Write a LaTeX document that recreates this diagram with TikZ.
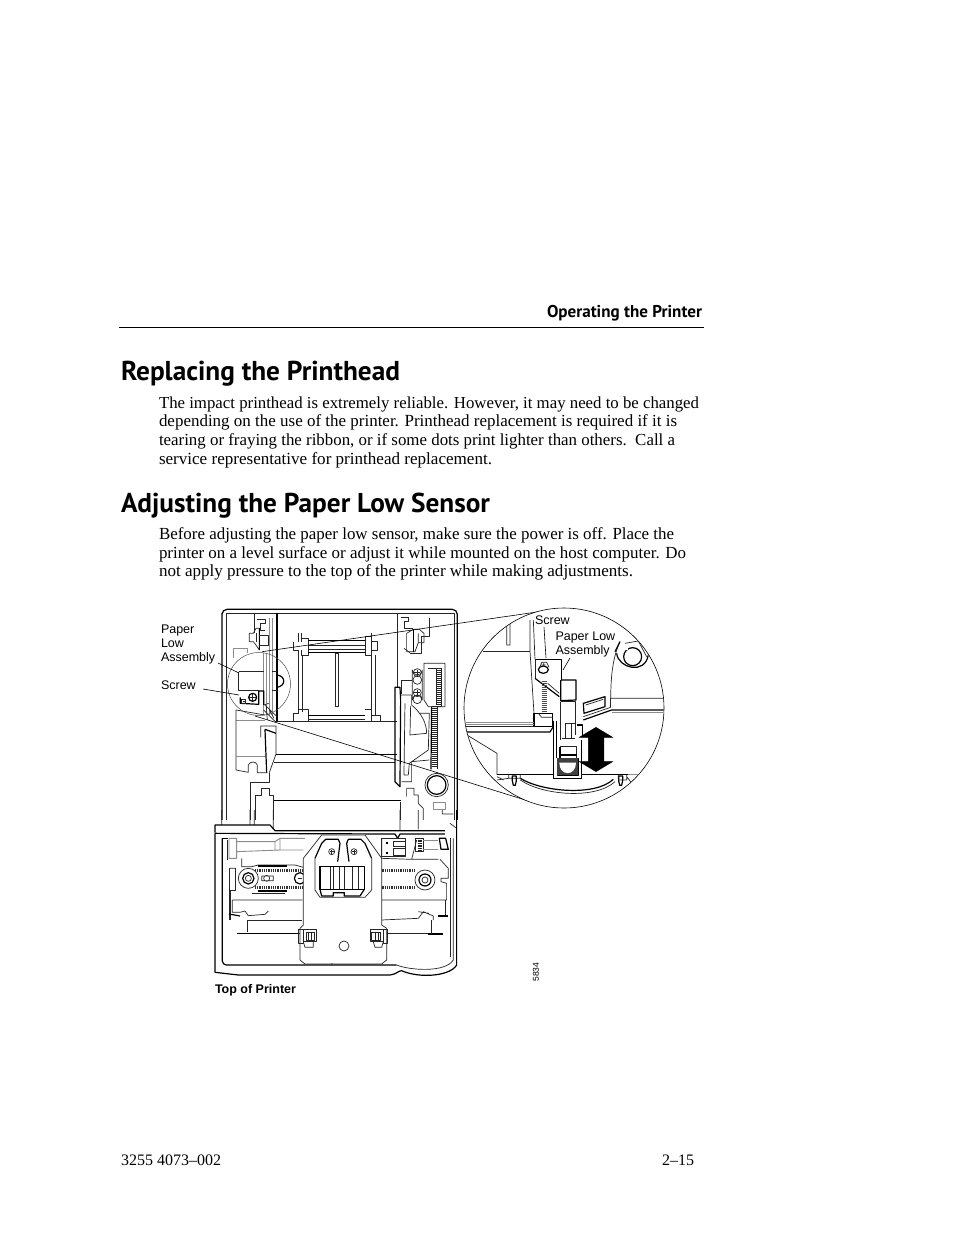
\documentclass[tikz,border=0pt]{standalone}
\usepackage{fontspec}
\usepackage{graphicx}
\setmainfont{Liberation Serif}
\newfontfamily\headf{PT Sans}
\newfontfamily\labf{Liberation Sans}
\newcommand{\fitline}[2]{\resizebox{#1pt}{!}{#2}}
\tikzset{
 txt/.style={anchor=base west,inner sep=0,outer sep=0},
 body/.style={txt,font=\fontsize{16}{19}\selectfont},
 head/.style={txt,font=\headf\bfseries\fontsize{27}{30}\selectfont},
 lab/.style={txt,font=\labf\fontsize{12.5}{14}\selectfont},
 zA/.style={shift={(150,600)},x=0.3333pt,y=-0.3333pt},
 zB/.style={shift={(455,600)},x=0.3333pt,y=-0.3333pt},
 zC/.style={shift={(205,810)},x=0.3333pt,y=-0.3333pt},
 ln/.style={line width=0.7pt,black!85,line join=round},
 hv/.style={line width=1.2pt,black,line join=round},
 gy/.style={line width=0.9pt,black!45,line join=round},
 lead/.style={line width=0.6pt,black},
 hatch/.style={line width=0.7pt,black!85},
 teeth/.style={line width=2.4pt,black!80,dash pattern=on 0.9pt off 0.9pt},
}
\begin{document}
\begin{tikzpicture}[x=1pt,y=-1pt]
\useasboundingbox (0,0) rectangle (954,1235);
\fill[white] (0,0) rectangle (954,1235);
% page text
\node[txt,font=\headf\bfseries\fontsize{15}{17}\selectfont] (runhead) at (547,317) {\fitline{155}{Operating the Printer}};
\coordinate (ruleL) at (119,327.5); \coordinate (ruleR) at (704,327.5);
\draw[line width=0.9pt] (ruleL) -- (ruleR);
\node[head] (h1) at (121,380) {\fitline{279}{Replacing the Printhead}};
\node[body] (p1a) at (159,408) {\fitline{540}{The impact printhead is extremely reliable. However, it may need to be changed}};
\node[body] (p1b) at (159,426) {\fitline{518}{depending on the use of the printer. Printhead replacement is required if it is}};
\node[body] (p1c) at (159,445) {\fitline{516}{tearing or fraying the ribbon, or if some dots print lighter than others.\ \ Call a}};
\node[body] (p1d) at (159,464) {\fitline{333}{service representative for printhead replacement.}};
\node[head] (h2) at (121,512) {\fitline{369}{Adjusting the Paper Low Sensor}};
\node[body] (p2a) at (159,539) {\fitline{515}{Before adjusting the paper low sensor, make sure the power is off. Place the}};
\node[body] (p2b) at (159,558) {\fitline{527}{printer on a level surface or adjust it while mounted on the host computer. Do}};
\node[body] (p2c) at (159,576) {\fitline{474}{not apply pressure to the top of the printer while making adjustments.}};
\node[body] (foot1) at (121,1165) {\fitline{100}{3255 4073--002}};
\node[body] (foot2) at (662,1165) {\fitline{32}{2--15}};
% ---- upper printer body
\begin{scope}[zA]
\draw[hv] (216,660) -- (216,40) [rounded corners=5pt] -- (216,28) -- (922,28) -- (922,660);
\draw[ln] (228,660) -- (228,40) -- (912,40) -- (912,660);
\draw[ln] (314,40) -- (314,100);
\draw[hv] (381,40) -- (381,363);
\draw[gy] (341,160) -- (341,345) (348,160) -- (348,345);
\draw[gy] (358,55) -- (358,345) (368,55) -- (368,345);
\draw[ln] (742,40) -- (742,262) (838,55) -- (838,110) -- (815,110) -- (815,160) -- (780,160);
\draw[gy] (251,175) -- (251,145) -- (291,145) -- (291,160);
% left bracket
\draw[ln] (322,58) -- (345,58) -- (345,70) -- (330,70) -- (330,90) -- (345,90);
\draw[ln] (298,100) -- (310,100) -- (318,85) -- (328,85) -- (328,150) -- (318,135) -- (310,125) -- (298,125) -- cycle;
\draw[hv] (328,85) -- (328,150);
\draw[ln] (328,105) -- (355,105) -- (355,135) -- (328,135) (318,100) -- (318,125);
% right bracket
\draw[ln] (752,52) -- (775,52) -- (775,65) -- (762,65) -- (762,85) -- (790,85);
\draw[ln] (770,100) -- (790,88) -- (808,88) -- (822,100) -- (822,128) -- (805,128) -- (795,155) -- (770,155) -- (770,135) -- cycle;
\draw[hv] (790,88) -- (790,155);
\draw[ln] (762,145) -- (780,158) (805,100) -- (805,128);
% spool
\draw[ln] (445,100) -- (445,125) (455,100) -- (455,125) (430,125) -- (430,150) -- (445,150) -- (445,335) (457,165) -- (457,335);
\draw[ln] (455,115) -- (475,115) -- (475,165) -- (455,165) -- (455,150);
\draw[ln] (475,135) -- (645,135) (475,147) -- (645,147);
\draw[hv] (475,122) -- (645,122) (475,158) -- (645,158);
\draw[ln] (645,110) -- (665,110) -- (665,165) -- (645,165) -- cycle;
\draw[ln] (665,100) -- (665,345) (675,165) -- (675,345) (665,125) -- (682,125) -- (682,150) -- (665,150);
\draw[ln] (555,160) rectangle (565,320);
\draw[ln] (430,363) -- (430,340) -- (445,340) -- (445,328) -- (475,328) -- (475,363);
\draw[hv] (475,347) -- (645,347);
\draw[ln] (475,358) -- (645,358);
\draw[ln] (645,328) -- (665,328) -- (665,363) (665,345) -- (690,345) -- (690,363);
\draw[ln] (375,363) -- (742,363);
\draw[hv] (378,463) -- (742,463);
\draw[ln] (372,488) -- (735,488);
\draw[hv] (370,602) -- (752,602);
% magnifier contents
\draw[ln] (266,215) -- (341,215) (266,215) -- (266,270) -- (326,270);
\draw[ln] (366,215) -- (381,215) (366,270) -- (381,270);
\draw[hv] (381,225) .. controls (408,228) and (408,258) .. (381,262);
\draw[hv] (271,292) -- (271,310) -- (326,313) -- (326,273) -- (341,273) -- (341,315);
\draw[ln] (273,298) rectangle (286,310) (278,303) -- (286,303);
\draw[hv] (308,292) circle (12);
\draw[ln] (308,282) -- (308,302) (298,292) -- (318,292);
\draw[ln] (345,315) -- (381,350) (341,330) -- (376,365) (349,320) -- (352,360) (358,330) -- (372,355) (258,330) -- (345,345);
\draw[ln] (341,315) -- (356,310);
\draw[gy] (258,360) -- (345,360);
% left lower frame
\draw[ln] (258,330) -- (258,510) -- (295,517) -- (295,495) .. controls (300,483) and (318,483) .. (322,495) -- (322,518) -- (352,518);
\draw[gy] (258,468) -- (345,468);
\draw[ln] (332,412) -- (332,378) -- (378,378) -- (378,462) -- (358,518);
\draw[hv] (345,388) -- (350,518) (345,388) -- (378,400);
\draw[ln] (302,660) -- (302,548) -- (358,548) -- (358,518);
\draw[ln] (315,660) -- (315,585) -- (335,585) -- (335,566) -- (357,566) -- (357,585) -- (370,585) -- (370,660);
% right column
\draw[hv] (735,262) -- (735,545) -- (750,560) -- (752,300) -- (750,262) -- cycle;
\draw[ln] (765,310) -- (762,525) -- (775,525) -- (778,490) -- (835,450) -- (838,340) -- (810,340);
\draw[ln] (752,285) -- (785,285) -- (785,315) .. controls (815,340) and (830,370) .. (830,400) -- (780,405) -- (782,318);
\draw[ln] (755,282) -- (755,240) -- (785,240);
\draw[ln] (787,210) arc (180:0:15) -- (817,300) arc (0:-180:15) -- cycle;
\foreach \c in {218,278}{\draw[ln] (802,\c) circle (12); \draw[ln] (802,\c-9) -- (802,\c+9) (793,\c) -- (811,\c);}
\foreach \c in {240,298}{\draw[ln] (802,\c) circle (13);}
\draw[ln] (822,190) -- (885,190) -- (885,320) -- (835,320) -- (822,300) -- cycle;
\draw[ln] (835,205) -- (860,205) -- (860,315);
\foreach \c in {205,211,...,320}{\draw[hatch] (860,\c) -- (875,\c);}
\draw[ln] (875,205) -- (875,320);
\foreach \c in {320,326,...,505}{\draw[hatch] (845,\c) -- (861,\c);}
\draw[hv] (845,320) -- (843,508);
\draw[ln] (861,320) -- (861,508);
\draw[ln] (755,545) -- (785,545) -- (785,485) -- (838,480);
\draw[ln] (770,590) -- (770,565) -- (792,565) -- (792,585) -- (805,585) -- (805,610) -- (820,625) -- (820,660);
\draw[ln] (750,660) -- (750,605);
\draw[ln] (860,555) circle (35);
\draw[hv] (860,555) circle (28);
\draw[gy] (850,608) rectangle (885,628);
\end{scope}
% ---- lower printer body
\begin{scope}[zC]
\draw[ln] (50,0) -- (50,45) (135,0) -- (135,45) (148,0) -- (148,45) (205,0) -- (205,62) (585,0) -- (585,60) (640,0) -- (640,58) (712,0) -- (712,12) -- (745,12) (735,40) -- (755,55);
\draw[hv,fill=white] (30,68) -- (30,45) -- (195,45) -- (210,62) -- (720,62);
\draw[hv] (30,70) -- (570,72) -- (578,85) -- (585,72) -- (720,72);
\draw[hv] (30,70) -- (30,487) -- (100,495) -- (555,495) .. controls (575,493) and (580,482) .. (590,482) .. controls (640,505) and (735,500) .. (755,465) -- (755,0);
\draw[hv] (52,85) -- (52,445) [rounded corners=4pt] -- (52,465) -- (575,465);
\draw[ln] (575,465) .. controls (610,480) and (720,490) .. (745,450) -- (745,85);
\draw[ln] (68,90) -- (68,150) (72,175) -- (72,330);
\draw[ln] (735,85) -- (735,440);
\draw[hv] (52,85) -- (68,85);
% roller
\draw[gy] (72,85) -- (95,85) -- (95,145) -- (72,145) -- cycle (95,95) -- (210,95) -- (225,85) -- (225,120) -- (295,120) (225,85) -- (300,85) (95,125) -- (225,120) (210,95) -- (210,120);
\draw[ln] (530,85) -- (530,145) -- (620,148) -- (635,90) (620,148) -- (700,148);
\draw[ln] (530,85) rectangle (600,140);
\fill (542,97) rectangle (548,103); \fill (542,125) rectangle (548,131);
\draw[ln] (565,95) rectangle (600,110) (565,115) rectangle (600,135);
\draw[ln] (632,85) rectangle (654,125);
\foreach \c in {85,90,...,125}{\draw[hatch] (638,\c) -- (652,\c);}
\draw[gy] (654,90) -- (700,90) (654,118) -- (700,118);
\draw[hv] (703,85) -- (722,85) -- (730,118) -- (708,118) -- cycle;
% middle housing left
\draw[ln] (75,175) -- (92,175) (110,145) -- (110,170) -- (140,170) -- (160,165) -- (270,165) -- (295,172);
\draw[ln] (92,175) -- (92,240) -- (75,240) -- (75,330);
\draw[ln] (140,250) -- (240,250);
\draw[ln] (82,270) -- (292,270) (82,270) -- (82,307) -- (105,307) -- (120,303) -- (130,317) -- (180,313) -- (190,303);
\draw[hv] (72,312) -- (105,318);
\draw[ln] (130,330) -- (292,330) (127,330) -- (127,367);
\draw[hv] (95,370) -- (285,370);
\draw[teeth] (150,181) -- (295,181) (150,232) -- (295,232);
\draw[hv] (160,168) -- (245,168) (160,243) -- (245,243);
\draw[ln,fill=white] (130,205) circle (30);
\draw[hv] (130,205) circle (17);
\draw[ln] (130,205) circle (9);
\draw[ln] (185,205) circle (9) (170,198) -- (205,198) -- (205,212) -- (170,212) -- cycle;
\draw[hv] (285,205) circle (17);
\draw[ln] (278,205) -- (292,205);
% middle housing right
\draw[ln] (705,148) -- (730,175) -- (730,205) -- (708,205) -- (708,215) -- (725,220) -- (725,270) -- (530,270);
\draw[teeth] (530,181) -- (630,181) (530,232) -- (630,232);
\draw[ln] (660,210) circle (30);
\draw[hv] (660,210) circle (18);
\draw[ln] (660,210) circle (9);
\draw[ln] (720,270) -- (720,318);
\draw[ln] (530,330) -- (640,325) -- (655,305) -- (685,318) -- (685,330) (640,305) -- (672,310);
\draw[hv] (700,318) -- (730,318);
\draw[ln] (530,370) -- (680,370);
\draw[hv] (670,372) -- (715,372);
\draw[ln] (680,330) -- (680,372);
% carrier
\draw[ln,fill=white] (295,145) -- (350,75) -- (480,75) -- (530,145) -- (530,345) -- (545,355) -- (545,450) -- (530,462) -- (300,462) -- (285,450) -- (285,355) -- (295,345) -- cycle;
\draw[hv] (330,145) -- (350,100) -- (362,88) -- (400,88) -- (405,100) -- (398,155);
\draw[hv] (500,145) -- (480,100) -- (468,88) -- (430,88) -- (425,100) -- (432,155);
\draw[ln] (330,145) -- (330,240) -- (345,262) -- (480,262) -- (500,240) -- (500,145);
\draw[ln] (380,125) circle (9) (447,125) circle (9);
\draw[ln] (374,125) -- (386,125) (380,119) -- (380,131) (441,125) -- (453,125) (447,119) -- (447,131);
\draw[hv] (345,170) rectangle (478,238);
\draw[ln] (375,170) -- (375,238) (402,170) -- (402,238) (442,170) -- (442,238);
\draw[ln] (418,170) -- (418,238) (385,170) -- (385,238) (460,170) -- (460,238);
\draw[hv] (345,238) -- (350,258) -- (385,258) -- (385,248) -- (418,248) -- (418,258) -- (465,258) -- (478,238);
% clips
\draw[ln] (280,358) rectangle (295,400);
\draw[ln] (295,358) rectangle (335,395);
\draw[ln] (303,368) rectangle (328,392) (310,368) -- (310,392) (320,368) -- (320,392);
\draw[ln] (295,395) -- (300,412) -- (325,412) -- (325,395);
\draw[ln] (535,358) rectangle (548,400);
\draw[ln] (495,358) rectangle (535,395);
\draw[ln] (500,368) rectangle (525,392) (510,368) -- (510,392) (520,368) -- (520,392);
\draw[ln] (505,395) -- (510,412) -- (530,412) -- (535,395);
\draw[ln] (417,408) circle (15);
\draw[ln] (380,460) -- (382,465);
\end{scope}
% ---- leaders
\node[circle,draw=black!70,line width=0.5pt,minimum size=63pt,inner sep=0] (smallc) at (259,684) {};
\node[lab] (lb1) at (161,633) {Paper};
\node[lab] (lb2) at (161,647) {Low};
\node[lab] (lb3) at (161,661) {Assembly};
\node[lab] (lb4) at (161,689) {Screw};
\coordinate (a1) at (218,663); \coordinate (a2) at (239,673);
\coordinate (s1) at (203,689); \coordinate (s2) at (239,695);
\draw[lead] (a1) -- (a2);
\draw[lead] (s1) -- (s2);
\coordinate (t1) at (262,651.7); \coordinate (t2) at (551,610);
\coordinate (b1) at (255,716); \coordinate (b2) at (535,803);
\draw[lead] (t1) -- (t2);
\draw[lead] (b1) -- (b2);
% ---- magnified view
\node[circle,draw=black,line width=0.6pt,fill=white,minimum size=200pt,inner sep=0] (bigc) at (564,708) {};
\begin{scope}
\clip (564,708) circle (99.7);
\begin{scope}[zB]
\draw[line width=0.9pt,black!85] (85,153) -- (225,153);
\draw[ln] (155,60) -- (155,135) -- (165,135) -- (165,60) (225,60) -- (225,153) -- (237,340);
\draw[ln] (235,60) -- (240,178);
\draw[hv] (240,178) -- (320,178) -- (320,240);
\draw[ln] (240,178) -- (240,235);
\draw[hv] (240,235) -- (313,290);
\draw[ln] (278,250) -- (313,280);
\foreach \c in {244,250,...,335}{\draw[line width=1pt,black!70] (260,\c) -- (276,\c);}
\draw[hv,fill=white] (237,340) rectangle (292,380);
\draw[ln] (250,340) -- (260,352) -- (292,352);
\draw[hv,fill=white] (265,209) ellipse (15 and 11);
\draw[ln] (255,202) -- (260,187) -- (275,187) -- (282,202) (260,195) -- (272,195) (266,189) -- (266,200);
% horizontals
\draw[gy] (20,366) -- (237,366) (20,372) -- (237,372);
\draw[ln] (20,380) -- (237,380);
\draw[hv] (20,396) -- (285,396) -- (295,380);
% assembly
\draw[hv] (320,240) -- (363,240) -- (363,300) -- (317,302) -- (317,240);
\draw[ln] (317,305) -- (360,305) -- (360,405);
\draw[ln] (317,305) -- (317,420);
\draw[ln] (330,370) rectangle (350,415);
\draw[ln] (330,370) -- (360,370);
\draw[hv] (305,362) -- (305,475);
\draw[hv] (295,362) -- (295,535) -- (380,535) -- (380,420);
\draw[ln] (320,415) -- (360,415);
\draw[ln] (315,440) -- (365,440) -- (365,475);
\draw[hv] (315,440) -- (315,475);
\draw[line width=2pt] (315,465) -- (365,465);
\draw[hv] (307,475) rectangle (370,525);
\fill[black!75] (307,475) rectangle (370,525);
\fill[white] (313,488) -- (363,488) .. controls (363,530) and (313,530) .. (313,488);
\fill[white] (298,368) rectangle (303,530);
\draw[hv] (365,375) -- (383,375) -- (383,408);
\draw[fill=black,draw=black] (423,382) -- (473,412) -- (447,412) -- (447,485) -- (473,485) -- (423,515) -- (373,485) -- (400,485) -- (400,412) -- (373,412) -- cycle;
% flap and right side
\draw[hv] (385,310) -- (450,290) -- (450,320) -- (387,340) -- cycle;
\draw[ln] (392,315) -- (445,298);
\draw[hv] (385,360) -- (470,330) -- (630,330);
\draw[ln] (385,350) -- (467,322) (467,295) -- (630,295);
\draw[gy] (470,338) -- (630,338);
\draw[ln] (467,322) -- (467,295);
\draw[ln] (467,295) .. controls (468,240) and (470,180) .. (495,125);
\draw[hv] (485,160) .. controls (490,205) and (570,225) .. (580,165);
\draw[ln] (510,130) -- (550,123) -- (575,170);
\draw[hv] (495,125) -- (480,155);
\draw[hv] (533,170) circle (27);
\fill[white] (505,145) rectangle (520,150);
% lower left
\draw[ln] (36,405) -- (126,460) -- (126,525);
\draw[hv] (126,523) -- (295,523) (380,523) -- (520,523);
\draw[gy] (520,523) -- (620,523);
\draw[ln] (126,540) -- (161,535) -- (161,523) (196,523) -- (196,535) -- (161,535);
\draw[ln] (126,530) -- (146,540);
\draw[hv] (196,535) .. controls (260,575) and (420,590) .. (475,538);
\draw[ln] (196,540) .. controls (260,585) and (420,600) .. (480,545);
\foreach \c in {178,497}{\draw[hv] (\c-6,528) -- (\c-6,542) -- (\c-3,556) -- (\c+3,556) -- (\c+6,542) -- (\c+6,528) -- cycle;}
\draw[ln] (490,525) -- (490,540) -- (515,540) -- (515,525) (515,530) -- (535,555);
\end{scope}
\end{scope}
\node[lab] (lc1) at (535,624.5) {Screw};
\node[lab] (lc2) at (555.5,640.5) {Paper Low};
\node[lab] (lc3) at (555.5,654.5) {Assembly};
\coordinate (sc1) at (544,627); \coordinate (sc2) at (546,658);
\coordinate (pl1) at (570,658); \coordinate (pl2) at (563,670);
\draw[lead] (sc1) -- (sc2);
\draw[lead] (pl1) -- (pl2);
\node[txt,font=\labf\bfseries\fontsize{11.5}{13}\selectfont] (top) at (215,993) {\fitline{81}{Top of Printer}};
\node[inner sep=0,rotate=90,font=\labf\fontsize{8.5}{10}\selectfont] (num) at (536,972) {5834};
\end{tikzpicture}
\end{document}
